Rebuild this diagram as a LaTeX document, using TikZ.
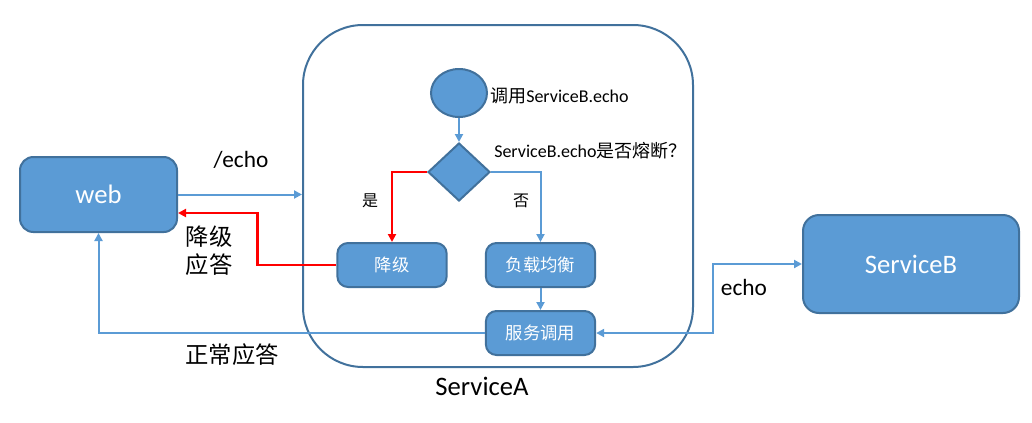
\documentclass[tikz,border=0pt]{standalone}
\usepackage{fontspec}
\setmainfont{Carlito}
\newfontfamily\cjk{Noto Sans CJK SC}
\usetikzlibrary{shapes.geometric,arrows.meta,calc}
\definecolor{boxfill}{HTML}{5B9BD5}
\definecolor{boxline}{HTML}{41719C}
\definecolor{conn}{HTML}{5B9BD5}
\definecolor{redline}{HTML}{FF0000}
\tikzset{
  box/.style={draw=boxline,fill=boxfill,line width=1.5pt,rounded corners=8pt,text=white,inner sep=0pt},
  smallbox/.style={box,minimum width=82pt,minimum height=33pt,font=\cjk\fontsize{13}{15}\selectfont},
  conn/.style={draw=conn,line width=1.5pt,-{Triangle[length=6pt,width=6pt]}},
  connred/.style={draw=redline,line width=1.8pt,-{Triangle[length=6pt,width=6pt]}},
  lbl/.style={inner sep=0pt,text=black},
}
\begin{document}
\begin{tikzpicture}[x=0.75pt,y=-0.75pt]
\useasboundingbox (0,0) rectangle (1032,422);
% ServiceA container
\node[draw=boxline,line width=1.5pt,rounded corners=45pt,minimum width=292.5pt,minimum height=256.5pt,inner sep=0pt] (sa) at (498,196) {};
\node[lbl,font=\fontsize{20}{24}\selectfont] (salbl) at (482,386) {ServiceA};
% web
\node[box,minimum width=117.75pt,minimum height=56.25pt,rounded corners=10pt,font=\fontsize{20}{24}\selectfont] (web) at (98.5,194.5) {web};
% ServiceB
\node[box,minimum width=162pt,minimum height=73.5pt,rounded corners=12pt,font=\fontsize{20}{24}\selectfont] (sb) at (911,264) {ServiceB};
% flow
\node[ellipse,draw=boxline,fill=boxfill,line width=1.5pt,minimum width=42pt,minimum height=36pt,inner sep=0pt] (start) at (459,93) {};
\node[lbl,anchor=west,font=\fontsize{13.5}{16}\selectfont] (startlbl) at (490,96) {{\cjk 调用}ServiceB.echo};
\node[diamond,draw=boxline,fill=boxfill,line width=1.5pt,minimum width=46.5pt,minimum height=43.5pt,inner sep=0pt] (dec) at (459,172) {};
\node[lbl,anchor=west,font=\fontsize{13.5}{16}\selectfont] (declbl) at (494,151) {ServiceB.echo{\cjk 是否熔断？}};
\node[smallbox] (jj) at (392,265) {降级};
\node[smallbox] (fz) at (540.5,265) {负载均衡};
\node[smallbox] (fw) at (540.5,333) {服务调用};
% labels
\node[lbl,font=\fontsize{17.5}{20}\selectfont] (echo1) at (241,160) {/echo};
\node[lbl,font=\cjk\fontsize{17.5}{21}\selectfont,align=left] (jjyd) at (209,251) {降级\\应答};
\node[lbl,font=\cjk\fontsize{12}{14}\selectfont] (yes) at (370,201) {是};
\node[lbl,font=\cjk\fontsize{12}{14}\selectfont] (no) at (521,201) {否};
\node[lbl,font=\cjk\fontsize{17.5}{20}\selectfont] (zcyd) at (232,355) {正常应答};
\node[lbl,font=\fontsize{17.5}{20}\selectfont] (echo2) at (744,287) {echo};
% connectors
\draw[conn] (web.east) -- (web.east -| sa.west);
\coordinate (redin) at ($(web.east)+(0,18.5)$);
\draw[connred] (jj.west) -- ++(-79,0) |- (redin);
\draw[conn] (fw.west) -| (web.south);
\draw[conn,{Triangle[length=6pt,width=6pt]}-{Triangle[length=6pt,width=6pt]}] (fw.east) -- ++(117,0) |- (sb.west);
\draw[conn] (start.south) -- (dec.north);
\draw[connred] (dec.west) -| (jj.north);
\draw[conn] (dec.east) -| (fz.north);
\draw[conn] (fz.south) -- (fw.north);
\end{tikzpicture}
\end{document}
